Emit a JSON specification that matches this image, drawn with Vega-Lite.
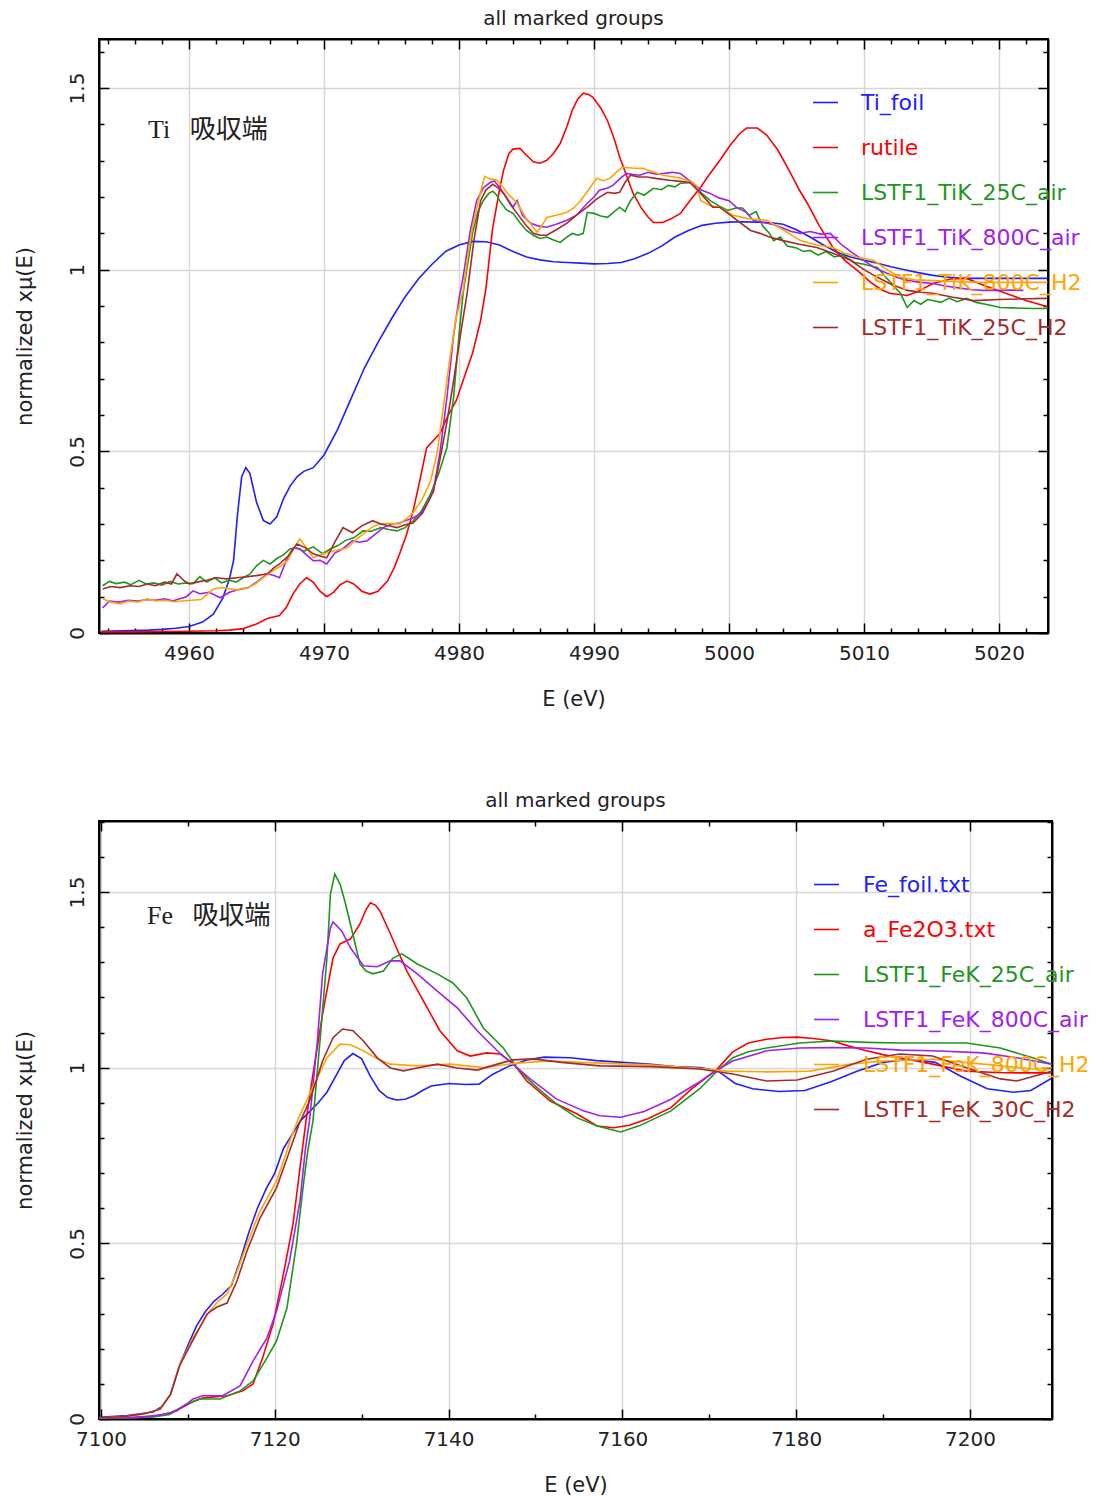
{
"$schema": "https://vega.github.io/schema/vega-lite/v6.json",
"padding": {"left": 12, "top": 8, "right": 0, "bottom": 0},
"spacing": 80,
"config": {
  "font": "DejaVu Sans",
  "view": {"stroke": "black", "strokeWidth": 2},
  "axis": {"domainColor": "black", "domainWidth": 2, "tickColor": "black", "tickWidth": 1.5, "gridColor": "#d6d6d6", "gridWidth": 1.5, "labelFont": "DejaVu Sans", "labelFontSize": 20, "labelColor": "#222", "titleFont": "DejaVu Sans", "titleFontSize": 21, "titleFontWeight": "normal", "titleColor": "#222", "labelFlush": false, "labelOverlap": false},
  "title": {"font": "DejaVu Sans", "fontSize": 20, "fontWeight": "normal", "color": "#222", "offset": 9}
},
"resolve": {"scale": {"color": "independent"}},
"vconcat": [
{
  "width": 949, "height": 594,
  "title": {"text": "all marked groups"},
  "resolve": {"axis": {"x": "independent", "y": "independent"}},
  "layer": [
  {
    "data": {"values": [
{"series":"Ti_foil","E":4953.5,"mu":0.005},{"series":"Ti_foil","E":4955,"mu":0.006},{"series":"Ti_foil","E":4957,"mu":0.008},{"series":"Ti_foil","E":4958,"mu":0.01},{"series":"Ti_foil","E":4959,"mu":0.013},{"series":"Ti_foil","E":4960,"mu":0.018},{"series":"Ti_foil","E":4961,"mu":0.03},{"series":"Ti_foil","E":4961.8,"mu":0.052},{"series":"Ti_foil","E":4962.5,"mu":0.096},{"series":"Ti_foil","E":4963,"mu":0.15},{"series":"Ti_foil","E":4963.3,"mu":0.2},{"series":"Ti_foil","E":4963.6,"mu":0.33},{"series":"Ti_foil","E":4963.9,"mu":0.43},{"series":"Ti_foil","E":4964.2,"mu":0.455},{"series":"Ti_foil","E":4964.5,"mu":0.44},{"series":"Ti_foil","E":4965,"mu":0.36},{"series":"Ti_foil","E":4965.5,"mu":0.31},{"series":"Ti_foil","E":4966,"mu":0.3},{"series":"Ti_foil","E":4966.5,"mu":0.32},{"series":"Ti_foil","E":4967,"mu":0.37},{"series":"Ti_foil","E":4967.5,"mu":0.405},{"series":"Ti_foil","E":4968,"mu":0.43},{"series":"Ti_foil","E":4968.5,"mu":0.445},{"series":"Ti_foil","E":4969.2,"mu":0.455},{"series":"Ti_foil","E":4970,"mu":0.49},{"series":"Ti_foil","E":4971,"mu":0.56},{"series":"Ti_foil","E":4972,"mu":0.645},{"series":"Ti_foil","E":4973,"mu":0.73},{"series":"Ti_foil","E":4974,"mu":0.8},{"series":"Ti_foil","E":4975,"mu":0.865},{"series":"Ti_foil","E":4976,"mu":0.925},{"series":"Ti_foil","E":4977,"mu":0.975},{"series":"Ti_foil","E":4978,"mu":1.015},{"series":"Ti_foil","E":4979,"mu":1.05},{"series":"Ti_foil","E":4980,"mu":1.068},{"series":"Ti_foil","E":4981,"mu":1.078},{"series":"Ti_foil","E":4982,"mu":1.077},{"series":"Ti_foil","E":4983,"mu":1.068},{"series":"Ti_foil","E":4984,"mu":1.05},{"series":"Ti_foil","E":4985,"mu":1.035},{"series":"Ti_foil","E":4986,"mu":1.027},{"series":"Ti_foil","E":4987,"mu":1.022},{"series":"Ti_foil","E":4988,"mu":1.02},{"series":"Ti_foil","E":4989,"mu":1.018},{"series":"Ti_foil","E":4990,"mu":1.016},{"series":"Ti_foil","E":4991,"mu":1.017},{"series":"Ti_foil","E":4992,"mu":1.02},{"series":"Ti_foil","E":4993,"mu":1.03},{"series":"Ti_foil","E":4994,"mu":1.045},{"series":"Ti_foil","E":4995,"mu":1.065},{"series":"Ti_foil","E":4996,"mu":1.09},{"series":"Ti_foil","E":4997,"mu":1.108},{"series":"Ti_foil","E":4998,"mu":1.122},{"series":"Ti_foil","E":4999,"mu":1.128},{"series":"Ti_foil","E":5000,"mu":1.131},{"series":"Ti_foil","E":5001,"mu":1.132},{"series":"Ti_foil","E":5002,"mu":1.131},{"series":"Ti_foil","E":5003,"mu":1.13},{"series":"Ti_foil","E":5004,"mu":1.125},{"series":"Ti_foil","E":5005,"mu":1.11},{"series":"Ti_foil","E":5006,"mu":1.09},{"series":"Ti_foil","E":5007,"mu":1.068},{"series":"Ti_foil","E":5008,"mu":1.048},{"series":"Ti_foil","E":5009,"mu":1.035},{"series":"Ti_foil","E":5010,"mu":1.026},{"series":"Ti_foil","E":5011,"mu":1.018},{"series":"Ti_foil","E":5012,"mu":1.008},{"series":"Ti_foil","E":5013,"mu":1.0},{"series":"Ti_foil","E":5014,"mu":0.992},{"series":"Ti_foil","E":5015,"mu":0.985},{"series":"Ti_foil","E":5016,"mu":0.98},{"series":"Ti_foil","E":5017,"mu":0.977},{"series":"Ti_foil","E":5018,"mu":0.976},{"series":"Ti_foil","E":5020,"mu":0.976},{"series":"Ti_foil","E":5022,"mu":0.976},{"series":"Ti_foil","E":5023.6,"mu":0.976},
{"series":"rutile","E":4953.5,"mu":0.003},{"series":"rutile","E":4956,"mu":0.003},{"series":"rutile","E":4958,"mu":0.004},{"series":"rutile","E":4960,"mu":0.005},{"series":"rutile","E":4962,"mu":0.006},{"series":"rutile","E":4963,"mu":0.008},{"series":"rutile","E":4964,"mu":0.012},{"series":"rutile","E":4965,"mu":0.025},{"series":"rutile","E":4965.8,"mu":0.04},{"series":"rutile","E":4966.7,"mu":0.048},{"series":"rutile","E":4967.2,"mu":0.07},{"series":"rutile","E":4967.7,"mu":0.107},{"series":"rutile","E":4968.2,"mu":0.135},{"series":"rutile","E":4968.7,"mu":0.152},{"series":"rutile","E":4969.2,"mu":0.14},{"series":"rutile","E":4969.7,"mu":0.115},{"series":"rutile","E":4970.2,"mu":0.1},{"series":"rutile","E":4970.7,"mu":0.112},{"series":"rutile","E":4971.2,"mu":0.133},{"series":"rutile","E":4971.7,"mu":0.143},{"series":"rutile","E":4972.2,"mu":0.135},{"series":"rutile","E":4972.8,"mu":0.115},{"series":"rutile","E":4973.4,"mu":0.107},{"series":"rutile","E":4974,"mu":0.115},{"series":"rutile","E":4974.7,"mu":0.143},{"series":"rutile","E":4975.2,"mu":0.18},{"series":"rutile","E":4975.6,"mu":0.218},{"series":"rutile","E":4976.1,"mu":0.27},{"series":"rutile","E":4976.6,"mu":0.336},{"series":"rutile","E":4977.1,"mu":0.42},{"series":"rutile","E":4977.6,"mu":0.51},{"series":"rutile","E":4978.1,"mu":0.53},{"series":"rutile","E":4978.6,"mu":0.55},{"series":"rutile","E":4979.2,"mu":0.6},{"series":"rutile","E":4979.8,"mu":0.64},{"series":"rutile","E":4980.3,"mu":0.695},{"series":"rutile","E":4981,"mu":0.77},{"series":"rutile","E":4981.6,"mu":0.86},{"series":"rutile","E":4982,"mu":0.95},{"series":"rutile","E":4982.5,"mu":1.117},{"series":"rutile","E":4983,"mu":1.22},{"series":"rutile","E":4983.3,"mu":1.274},{"series":"rutile","E":4983.7,"mu":1.32},{"series":"rutile","E":4984,"mu":1.332},{"series":"rutile","E":4984.5,"mu":1.334},{"series":"rutile","E":4985,"mu":1.315},{"series":"rutile","E":4985.5,"mu":1.297},{"series":"rutile","E":4986,"mu":1.293},{"series":"rutile","E":4986.5,"mu":1.301},{"series":"rutile","E":4987,"mu":1.32},{"series":"rutile","E":4987.5,"mu":1.348},{"series":"rutile","E":4988,"mu":1.395},{"series":"rutile","E":4988.4,"mu":1.44},{"series":"rutile","E":4988.8,"mu":1.47},{"series":"rutile","E":4989.2,"mu":1.486},{"series":"rutile","E":4989.6,"mu":1.482},{"series":"rutile","E":4989.9,"mu":1.475},{"series":"rutile","E":4990.5,"mu":1.445},{"series":"rutile","E":4991,"mu":1.41},{"series":"rutile","E":4991.5,"mu":1.36},{"series":"rutile","E":4991.9,"mu":1.31},{"series":"rutile","E":4992.4,"mu":1.26},{"series":"rutile","E":4992.9,"mu":1.21},{"series":"rutile","E":4993.5,"mu":1.17},{"series":"rutile","E":4994,"mu":1.145},{"series":"rutile","E":4994.4,"mu":1.13},{"series":"rutile","E":4995.1,"mu":1.13},{"series":"rutile","E":4995.7,"mu":1.14},{"series":"rutile","E":4996.4,"mu":1.155},{"series":"rutile","E":4997,"mu":1.185},{"series":"rutile","E":4997.9,"mu":1.227},{"series":"rutile","E":4998.5,"mu":1.26},{"series":"rutile","E":4999.3,"mu":1.3},{"series":"rutile","E":5000.1,"mu":1.343},{"series":"rutile","E":5000.8,"mu":1.375},{"series":"rutile","E":5001.3,"mu":1.39},{"series":"rutile","E":5002.1,"mu":1.39},{"series":"rutile","E":5002.8,"mu":1.37},{"series":"rutile","E":5003.6,"mu":1.33},{"series":"rutile","E":5004.5,"mu":1.27},{"series":"rutile","E":5005.2,"mu":1.22},{"series":"rutile","E":5005.8,"mu":1.183},{"series":"rutile","E":5006.7,"mu":1.12},{"series":"rutile","E":5007.7,"mu":1.061},{"series":"rutile","E":5008.6,"mu":1.025},{"series":"rutile","E":5009.5,"mu":0.998},{"series":"rutile","E":5010.5,"mu":0.965},{"series":"rutile","E":5011.3,"mu":0.945},{"series":"rutile","E":5011.9,"mu":0.935},{"series":"rutile","E":5013.2,"mu":0.929},{"series":"rutile","E":5014,"mu":0.94},{"series":"rutile","E":5015.1,"mu":0.962},{"series":"rutile","E":5016.5,"mu":0.975},{"series":"rutile","E":5017.6,"mu":0.976},{"series":"rutile","E":5019,"mu":0.955},{"series":"rutile","E":5020.5,"mu":0.935},{"series":"rutile","E":5022,"mu":0.915},{"series":"rutile","E":5023.6,"mu":0.898},
{"series":"LSTF1_TiK_25C_air","E":4953.6,"mu":0.13},{"series":"LSTF1_TiK_25C_air","E":4954.1,"mu":0.142},{"series":"LSTF1_TiK_25C_air","E":4954.6,"mu":0.136},{"series":"LSTF1_TiK_25C_air","E":4955.2,"mu":0.14},{"series":"LSTF1_TiK_25C_air","E":4955.7,"mu":0.133},{"series":"LSTF1_TiK_25C_air","E":4956.3,"mu":0.145},{"series":"LSTF1_TiK_25C_air","E":4956.8,"mu":0.135},{"series":"LSTF1_TiK_25C_air","E":4957.4,"mu":0.138},{"series":"LSTF1_TiK_25C_air","E":4958,"mu":0.132},{"series":"LSTF1_TiK_25C_air","E":4958.6,"mu":0.142},{"series":"LSTF1_TiK_25C_air","E":4959.2,"mu":0.135},{"series":"LSTF1_TiK_25C_air","E":4959.8,"mu":0.138},{"series":"LSTF1_TiK_25C_air","E":4960.3,"mu":0.136},{"series":"LSTF1_TiK_25C_air","E":4960.8,"mu":0.155},{"series":"LSTF1_TiK_25C_air","E":4961.3,"mu":0.14},{"series":"LSTF1_TiK_25C_air","E":4961.9,"mu":0.152},{"series":"LSTF1_TiK_25C_air","E":4962.4,"mu":0.138},{"series":"LSTF1_TiK_25C_air","E":4963,"mu":0.145},{"series":"LSTF1_TiK_25C_air","E":4963.5,"mu":0.14},{"series":"LSTF1_TiK_25C_air","E":4964,"mu":0.152},{"series":"LSTF1_TiK_25C_air","E":4964.5,"mu":0.162},{"series":"LSTF1_TiK_25C_air","E":4965,"mu":0.185},{"series":"LSTF1_TiK_25C_air","E":4965.5,"mu":0.2},{"series":"LSTF1_TiK_25C_air","E":4966,"mu":0.19},{"series":"LSTF1_TiK_25C_air","E":4966.5,"mu":0.205},{"series":"LSTF1_TiK_25C_air","E":4967,"mu":0.215},{"series":"LSTF1_TiK_25C_air","E":4967.5,"mu":0.232},{"series":"LSTF1_TiK_25C_air","E":4968,"mu":0.234},{"series":"LSTF1_TiK_25C_air","E":4968.5,"mu":0.225},{"series":"LSTF1_TiK_25C_air","E":4969.2,"mu":0.237},{"series":"LSTF1_TiK_25C_air","E":4969.9,"mu":0.218},{"series":"LSTF1_TiK_25C_air","E":4970.5,"mu":0.232},{"series":"LSTF1_TiK_25C_air","E":4971,"mu":0.24},{"series":"LSTF1_TiK_25C_air","E":4971.6,"mu":0.255},{"series":"LSTF1_TiK_25C_air","E":4972.2,"mu":0.262},{"series":"LSTF1_TiK_25C_air","E":4972.9,"mu":0.281},{"series":"LSTF1_TiK_25C_air","E":4973.5,"mu":0.28},{"series":"LSTF1_TiK_25C_air","E":4974.2,"mu":0.29},{"series":"LSTF1_TiK_25C_air","E":4974.8,"mu":0.285},{"series":"LSTF1_TiK_25C_air","E":4975.4,"mu":0.281},{"series":"LSTF1_TiK_25C_air","E":4976,"mu":0.29},{"series":"LSTF1_TiK_25C_air","E":4976.6,"mu":0.309},{"series":"LSTF1_TiK_25C_air","E":4977.2,"mu":0.335},{"series":"LSTF1_TiK_25C_air","E":4977.9,"mu":0.383},{"series":"LSTF1_TiK_25C_air","E":4978.5,"mu":0.44},{"series":"LSTF1_TiK_25C_air","E":4979.1,"mu":0.51},{"series":"LSTF1_TiK_25C_air","E":4979.6,"mu":0.65},{"series":"LSTF1_TiK_25C_air","E":4980,"mu":0.82},{"series":"LSTF1_TiK_25C_air","E":4980.3,"mu":0.935},{"series":"LSTF1_TiK_25C_air","E":4980.7,"mu":1.03},{"series":"LSTF1_TiK_25C_air","E":4981,"mu":1.1},{"series":"LSTF1_TiK_25C_air","E":4981.4,"mu":1.16},{"series":"LSTF1_TiK_25C_air","E":4981.8,"mu":1.19},{"series":"LSTF1_TiK_25C_air","E":4982.2,"mu":1.21},{"series":"LSTF1_TiK_25C_air","E":4982.5,"mu":1.216},{"series":"LSTF1_TiK_25C_air","E":4982.8,"mu":1.205},{"series":"LSTF1_TiK_25C_air","E":4983,"mu":1.19},{"series":"LSTF1_TiK_25C_air","E":4983.5,"mu":1.165},{"series":"LSTF1_TiK_25C_air","E":4984,"mu":1.155},{"series":"LSTF1_TiK_25C_air","E":4984.5,"mu":1.13},{"series":"LSTF1_TiK_25C_air","E":4985,"mu":1.108},{"series":"LSTF1_TiK_25C_air","E":4985.5,"mu":1.095},{"series":"LSTF1_TiK_25C_air","E":4986,"mu":1.086},{"series":"LSTF1_TiK_25C_air","E":4986.5,"mu":1.09},{"series":"LSTF1_TiK_25C_air","E":4987,"mu":1.082},{"series":"LSTF1_TiK_25C_air","E":4987.5,"mu":1.075},{"series":"LSTF1_TiK_25C_air","E":4988,"mu":1.09},{"series":"LSTF1_TiK_25C_air","E":4988.4,"mu":1.1},{"series":"LSTF1_TiK_25C_air","E":4988.8,"mu":1.095},{"series":"LSTF1_TiK_25C_air","E":4989.2,"mu":1.1},{"series":"LSTF1_TiK_25C_air","E":4989.5,"mu":1.158},{"series":"LSTF1_TiK_25C_air","E":4990,"mu":1.155},{"series":"LSTF1_TiK_25C_air","E":4990.5,"mu":1.148},{"series":"LSTF1_TiK_25C_air","E":4991,"mu":1.144},{"series":"LSTF1_TiK_25C_air","E":4991.5,"mu":1.16},{"series":"LSTF1_TiK_25C_air","E":4991.9,"mu":1.172},{"series":"LSTF1_TiK_25C_air","E":4992.3,"mu":1.16},{"series":"LSTF1_TiK_25C_air","E":4992.7,"mu":1.19},{"series":"LSTF1_TiK_25C_air","E":4993.2,"mu":1.213},{"series":"LSTF1_TiK_25C_air","E":4993.7,"mu":1.205},{"series":"LSTF1_TiK_25C_air","E":4994.4,"mu":1.224},{"series":"LSTF1_TiK_25C_air","E":4995,"mu":1.22},{"series":"LSTF1_TiK_25C_air","E":4995.5,"mu":1.232},{"series":"LSTF1_TiK_25C_air","E":4996,"mu":1.228},{"series":"LSTF1_TiK_25C_air","E":4996.4,"mu":1.238},{"series":"LSTF1_TiK_25C_air","E":4997.3,"mu":1.24},{"series":"LSTF1_TiK_25C_air","E":4997.9,"mu":1.213},{"series":"LSTF1_TiK_25C_air","E":4998.6,"mu":1.19},{"series":"LSTF1_TiK_25C_air","E":4999.3,"mu":1.175},{"series":"LSTF1_TiK_25C_air","E":4999.9,"mu":1.163},{"series":"LSTF1_TiK_25C_air","E":5000.5,"mu":1.17},{"series":"LSTF1_TiK_25C_air","E":5001,"mu":1.17},{"series":"LSTF1_TiK_25C_air","E":5001.5,"mu":1.15},{"series":"LSTF1_TiK_25C_air","E":5002,"mu":1.16},{"series":"LSTF1_TiK_25C_air","E":5002.5,"mu":1.12},{"series":"LSTF1_TiK_25C_air","E":5003,"mu":1.1},{"series":"LSTF1_TiK_25C_air","E":5003.3,"mu":1.08},{"series":"LSTF1_TiK_25C_air","E":5003.8,"mu":1.09},{"series":"LSTF1_TiK_25C_air","E":5004.3,"mu":1.065},{"series":"LSTF1_TiK_25C_air","E":5005,"mu":1.06},{"series":"LSTF1_TiK_25C_air","E":5005.5,"mu":1.05},{"series":"LSTF1_TiK_25C_air","E":5006,"mu":1.053},{"series":"LSTF1_TiK_25C_air","E":5006.6,"mu":1.04},{"series":"LSTF1_TiK_25C_air","E":5007.2,"mu":1.05},{"series":"LSTF1_TiK_25C_air","E":5007.8,"mu":1.035},{"series":"LSTF1_TiK_25C_air","E":5008.4,"mu":1.04},{"series":"LSTF1_TiK_25C_air","E":5008.7,"mu":1.034},{"series":"LSTF1_TiK_25C_air","E":5009.3,"mu":1.02},{"series":"LSTF1_TiK_25C_air","E":5010,"mu":1.015},{"series":"LSTF1_TiK_25C_air","E":5010.5,"mu":1.01},{"series":"LSTF1_TiK_25C_air","E":5011,"mu":1.006},{"series":"LSTF1_TiK_25C_air","E":5011.6,"mu":0.98},{"series":"LSTF1_TiK_25C_air","E":5012.2,"mu":0.955},{"series":"LSTF1_TiK_25C_air","E":5012.7,"mu":0.935},{"series":"LSTF1_TiK_25C_air","E":5013.2,"mu":0.896},{"series":"LSTF1_TiK_25C_air","E":5013.7,"mu":0.915},{"series":"LSTF1_TiK_25C_air","E":5014.2,"mu":0.905},{"series":"LSTF1_TiK_25C_air","E":5014.7,"mu":0.918},{"series":"LSTF1_TiK_25C_air","E":5015.1,"mu":0.915},{"series":"LSTF1_TiK_25C_air","E":5015.7,"mu":0.91},{"series":"LSTF1_TiK_25C_air","E":5016.3,"mu":0.922},{"series":"LSTF1_TiK_25C_air","E":5016.9,"mu":0.912},{"series":"LSTF1_TiK_25C_air","E":5017.6,"mu":0.921},{"series":"LSTF1_TiK_25C_air","E":5018.3,"mu":0.91},{"series":"LSTF1_TiK_25C_air","E":5019,"mu":0.905},{"series":"LSTF1_TiK_25C_air","E":5020.1,"mu":0.896},{"series":"LSTF1_TiK_25C_air","E":5021,"mu":0.895},{"series":"LSTF1_TiK_25C_air","E":5022.5,"mu":0.893},{"series":"LSTF1_TiK_25C_air","E":5023.6,"mu":0.893},
{"series":"LSTF1_TiK_800C_air","E":4953.6,"mu":0.069},{"series":"LSTF1_TiK_800C_air","E":4954.1,"mu":0.088},{"series":"LSTF1_TiK_800C_air","E":4954.8,"mu":0.085},{"series":"LSTF1_TiK_800C_air","E":4955.5,"mu":0.09},{"series":"LSTF1_TiK_800C_air","E":4956.2,"mu":0.088},{"series":"LSTF1_TiK_800C_air","E":4956.9,"mu":0.092},{"series":"LSTF1_TiK_800C_air","E":4957.5,"mu":0.09},{"series":"LSTF1_TiK_800C_air","E":4958.2,"mu":0.094},{"series":"LSTF1_TiK_800C_air","E":4958.8,"mu":0.088},{"series":"LSTF1_TiK_800C_air","E":4959.3,"mu":0.094},{"series":"LSTF1_TiK_800C_air","E":4959.8,"mu":0.1},{"series":"LSTF1_TiK_800C_air","E":4960.3,"mu":0.116},{"series":"LSTF1_TiK_800C_air","E":4960.8,"mu":0.108},{"series":"LSTF1_TiK_800C_air","E":4961.5,"mu":0.112},{"series":"LSTF1_TiK_800C_air","E":4962.3,"mu":0.097},{"series":"LSTF1_TiK_800C_air","E":4963,"mu":0.112},{"series":"LSTF1_TiK_800C_air","E":4963.8,"mu":0.121},{"series":"LSTF1_TiK_800C_air","E":4964.4,"mu":0.125},{"series":"LSTF1_TiK_800C_air","E":4965,"mu":0.14},{"series":"LSTF1_TiK_800C_air","E":4965.8,"mu":0.163},{"series":"LSTF1_TiK_800C_air","E":4966.3,"mu":0.158},{"series":"LSTF1_TiK_800C_air","E":4966.7,"mu":0.152},{"series":"LSTF1_TiK_800C_air","E":4967.2,"mu":0.2},{"series":"LSTF1_TiK_800C_air","E":4967.7,"mu":0.234},{"series":"LSTF1_TiK_800C_air","E":4968.2,"mu":0.232},{"series":"LSTF1_TiK_800C_air","E":4968.7,"mu":0.215},{"series":"LSTF1_TiK_800C_air","E":4969.2,"mu":0.199},{"series":"LSTF1_TiK_800C_air","E":4969.7,"mu":0.2},{"series":"LSTF1_TiK_800C_air","E":4970.2,"mu":0.19},{"series":"LSTF1_TiK_800C_air","E":4970.8,"mu":0.22},{"series":"LSTF1_TiK_800C_air","E":4971.4,"mu":0.232},{"series":"LSTF1_TiK_800C_air","E":4972.1,"mu":0.254},{"series":"LSTF1_TiK_800C_air","E":4972.6,"mu":0.25},{"series":"LSTF1_TiK_800C_air","E":4973.2,"mu":0.254},{"series":"LSTF1_TiK_800C_air","E":4973.8,"mu":0.272},{"series":"LSTF1_TiK_800C_air","E":4974.4,"mu":0.29},{"series":"LSTF1_TiK_800C_air","E":4975,"mu":0.3},{"series":"LSTF1_TiK_800C_air","E":4975.6,"mu":0.303},{"series":"LSTF1_TiK_800C_air","E":4976.1,"mu":0.31},{"series":"LSTF1_TiK_800C_air","E":4976.6,"mu":0.317},{"series":"LSTF1_TiK_800C_air","E":4977.2,"mu":0.33},{"series":"LSTF1_TiK_800C_air","E":4977.7,"mu":0.36},{"series":"LSTF1_TiK_800C_air","E":4978.1,"mu":0.39},{"series":"LSTF1_TiK_800C_air","E":4978.6,"mu":0.5},{"series":"LSTF1_TiK_800C_air","E":4979.1,"mu":0.648},{"series":"LSTF1_TiK_800C_air","E":4979.6,"mu":0.82},{"series":"LSTF1_TiK_800C_air","E":4980,"mu":0.92},{"series":"LSTF1_TiK_800C_air","E":4980.3,"mu":0.979},{"series":"LSTF1_TiK_800C_air","E":4980.8,"mu":1.1},{"series":"LSTF1_TiK_800C_air","E":4981.3,"mu":1.19},{"series":"LSTF1_TiK_800C_air","E":4981.8,"mu":1.225},{"series":"LSTF1_TiK_800C_air","E":4982.3,"mu":1.24},{"series":"LSTF1_TiK_800C_air","E":4982.6,"mu":1.245},{"series":"LSTF1_TiK_800C_air","E":4983,"mu":1.227},{"series":"LSTF1_TiK_800C_air","E":4983.5,"mu":1.2},{"series":"LSTF1_TiK_800C_air","E":4984,"mu":1.172},{"series":"LSTF1_TiK_800C_air","E":4984.3,"mu":1.19},{"series":"LSTF1_TiK_800C_air","E":4984.7,"mu":1.15},{"series":"LSTF1_TiK_800C_air","E":4985.3,"mu":1.128},{"series":"LSTF1_TiK_800C_air","E":4985.9,"mu":1.12},{"series":"LSTF1_TiK_800C_air","E":4986.5,"mu":1.117},{"series":"LSTF1_TiK_800C_air","E":4987.2,"mu":1.125},{"series":"LSTF1_TiK_800C_air","E":4988,"mu":1.136},{"series":"LSTF1_TiK_800C_air","E":4988.7,"mu":1.15},{"series":"LSTF1_TiK_800C_air","E":4989.5,"mu":1.183},{"series":"LSTF1_TiK_800C_air","E":4990,"mu":1.2},{"series":"LSTF1_TiK_800C_air","E":4990.4,"mu":1.219},{"series":"LSTF1_TiK_800C_air","E":4991,"mu":1.225},{"series":"LSTF1_TiK_800C_air","E":4991.4,"mu":1.232},{"series":"LSTF1_TiK_800C_air","E":4991.9,"mu":1.25},{"series":"LSTF1_TiK_800C_air","E":4992.4,"mu":1.265},{"series":"LSTF1_TiK_800C_air","E":4992.9,"mu":1.262},{"series":"LSTF1_TiK_800C_air","E":4993.4,"mu":1.26},{"series":"LSTF1_TiK_800C_air","E":4994,"mu":1.268},{"series":"LSTF1_TiK_800C_air","E":4994.6,"mu":1.263},{"series":"LSTF1_TiK_800C_air","E":4995.1,"mu":1.265},{"series":"LSTF1_TiK_800C_air","E":4995.8,"mu":1.268},{"series":"LSTF1_TiK_800C_air","E":4996.4,"mu":1.265},{"series":"LSTF1_TiK_800C_air","E":4996.9,"mu":1.25},{"series":"LSTF1_TiK_800C_air","E":4997.3,"mu":1.238},{"series":"LSTF1_TiK_800C_air","E":4997.9,"mu":1.22},{"series":"LSTF1_TiK_800C_air","E":4998.6,"mu":1.21},{"series":"LSTF1_TiK_800C_air","E":4999.3,"mu":1.197},{"series":"LSTF1_TiK_800C_air","E":5000,"mu":1.19},{"series":"LSTF1_TiK_800C_air","E":5000.6,"mu":1.17},{"series":"LSTF1_TiK_800C_air","E":5001.2,"mu":1.16},{"series":"LSTF1_TiK_800C_air","E":5001.8,"mu":1.136},{"series":"LSTF1_TiK_800C_air","E":5002.5,"mu":1.13},{"series":"LSTF1_TiK_800C_air","E":5003.2,"mu":1.125},{"series":"LSTF1_TiK_800C_air","E":5004,"mu":1.115},{"series":"LSTF1_TiK_800C_air","E":5004.6,"mu":1.105},{"series":"LSTF1_TiK_800C_air","E":5005.3,"mu":1.1},{"series":"LSTF1_TiK_800C_air","E":5006,"mu":1.105},{"series":"LSTF1_TiK_800C_air","E":5006.8,"mu":1.098},{"series":"LSTF1_TiK_800C_air","E":5007.5,"mu":1.1},{"series":"LSTF1_TiK_800C_air","E":5008.3,"mu":1.07},{"series":"LSTF1_TiK_800C_air","E":5009.2,"mu":1.045},{"series":"LSTF1_TiK_800C_air","E":5010,"mu":1.025},{"series":"LSTF1_TiK_800C_air","E":5010.8,"mu":1.005},{"series":"LSTF1_TiK_800C_air","E":5011.7,"mu":0.99},{"series":"LSTF1_TiK_800C_air","E":5012.5,"mu":0.978},{"series":"LSTF1_TiK_800C_air","E":5013.3,"mu":0.97},{"series":"LSTF1_TiK_800C_air","E":5014.2,"mu":0.965},{"series":"LSTF1_TiK_800C_air","E":5015.1,"mu":0.962},{"series":"LSTF1_TiK_800C_air","E":5016,"mu":0.955},{"series":"LSTF1_TiK_800C_air","E":5017,"mu":0.95},{"series":"LSTF1_TiK_800C_air","E":5018,"mu":0.945},{"series":"LSTF1_TiK_800C_air","E":5018.8,"mu":0.943},{"series":"LSTF1_TiK_800C_air","E":5020,"mu":0.943},{"series":"LSTF1_TiK_800C_air","E":5021,"mu":0.944},{"series":"LSTF1_TiK_800C_air","E":5021.8,"mu":0.943},
{"series":"LSTF1_TiK_800C_H2","E":4953.6,"mu":0.094},{"series":"LSTF1_TiK_800C_H2","E":4954.2,"mu":0.085},{"series":"LSTF1_TiK_800C_H2","E":4954.9,"mu":0.08},{"series":"LSTF1_TiK_800C_H2","E":4955.5,"mu":0.088},{"series":"LSTF1_TiK_800C_H2","E":4956.2,"mu":0.085},{"series":"LSTF1_TiK_800C_H2","E":4956.9,"mu":0.094},{"series":"LSTF1_TiK_800C_H2","E":4957.5,"mu":0.088},{"series":"LSTF1_TiK_800C_H2","E":4958.2,"mu":0.09},{"series":"LSTF1_TiK_800C_H2","E":4958.9,"mu":0.086},{"series":"LSTF1_TiK_800C_H2","E":4959.5,"mu":0.088},{"series":"LSTF1_TiK_800C_H2","E":4960.2,"mu":0.09},{"series":"LSTF1_TiK_800C_H2","E":4960.9,"mu":0.092},{"series":"LSTF1_TiK_800C_H2","E":4961.3,"mu":0.105},{"series":"LSTF1_TiK_800C_H2","E":4961.8,"mu":0.121},{"series":"LSTF1_TiK_800C_H2","E":4962.4,"mu":0.125},{"series":"LSTF1_TiK_800C_H2","E":4963,"mu":0.122},{"series":"LSTF1_TiK_800C_H2","E":4963.6,"mu":0.118},{"series":"LSTF1_TiK_800C_H2","E":4964.3,"mu":0.124},{"series":"LSTF1_TiK_800C_H2","E":4964.9,"mu":0.135},{"series":"LSTF1_TiK_800C_H2","E":4965.6,"mu":0.155},{"series":"LSTF1_TiK_800C_H2","E":4966.2,"mu":0.171},{"series":"LSTF1_TiK_800C_H2","E":4966.8,"mu":0.185},{"series":"LSTF1_TiK_800C_H2","E":4967.3,"mu":0.199},{"series":"LSTF1_TiK_800C_H2","E":4967.8,"mu":0.235},{"series":"LSTF1_TiK_800C_H2","E":4968.2,"mu":0.259},{"series":"LSTF1_TiK_800C_H2","E":4968.7,"mu":0.235},{"series":"LSTF1_TiK_800C_H2","E":4969.2,"mu":0.207},{"series":"LSTF1_TiK_800C_H2","E":4969.7,"mu":0.215},{"series":"LSTF1_TiK_800C_H2","E":4970.2,"mu":0.221},{"series":"LSTF1_TiK_800C_H2","E":4970.9,"mu":0.228},{"series":"LSTF1_TiK_800C_H2","E":4971.7,"mu":0.234},{"series":"LSTF1_TiK_800C_H2","E":4972.3,"mu":0.255},{"series":"LSTF1_TiK_800C_H2","E":4972.9,"mu":0.273},{"series":"LSTF1_TiK_800C_H2","E":4973.5,"mu":0.29},{"series":"LSTF1_TiK_800C_H2","E":4974.1,"mu":0.3},{"series":"LSTF1_TiK_800C_H2","E":4974.8,"mu":0.302},{"series":"LSTF1_TiK_800C_H2","E":4975.6,"mu":0.3},{"series":"LSTF1_TiK_800C_H2","E":4976.1,"mu":0.315},{"series":"LSTF1_TiK_800C_H2","E":4976.6,"mu":0.331},{"series":"LSTF1_TiK_800C_H2","E":4977.3,"mu":0.37},{"series":"LSTF1_TiK_800C_H2","E":4977.9,"mu":0.419},{"series":"LSTF1_TiK_800C_H2","E":4978.4,"mu":0.5},{"series":"LSTF1_TiK_800C_H2","E":4978.8,"mu":0.612},{"series":"LSTF1_TiK_800C_H2","E":4979.3,"mu":0.75},{"series":"LSTF1_TiK_800C_H2","E":4979.8,"mu":0.87},{"series":"LSTF1_TiK_800C_H2","E":4980.3,"mu":0.943},{"series":"LSTF1_TiK_800C_H2","E":4980.7,"mu":1.05},{"series":"LSTF1_TiK_800C_H2","E":4981,"mu":1.117},{"series":"LSTF1_TiK_800C_H2","E":4981.5,"mu":1.2},{"series":"LSTF1_TiK_800C_H2","E":4981.9,"mu":1.257},{"series":"LSTF1_TiK_800C_H2","E":4982.3,"mu":1.25},{"series":"LSTF1_TiK_800C_H2","E":4982.8,"mu":1.246},{"series":"LSTF1_TiK_800C_H2","E":4983.2,"mu":1.23},{"series":"LSTF1_TiK_800C_H2","E":4983.6,"mu":1.21},{"series":"LSTF1_TiK_800C_H2","E":4984,"mu":1.195},{"series":"LSTF1_TiK_800C_H2","E":4984.3,"mu":1.183},{"series":"LSTF1_TiK_800C_H2","E":4985,"mu":1.14},{"series":"LSTF1_TiK_800C_H2","E":4985.8,"mu":1.103},{"series":"LSTF1_TiK_800C_H2","E":4986.2,"mu":1.125},{"series":"LSTF1_TiK_800C_H2","E":4986.5,"mu":1.144},{"series":"LSTF1_TiK_800C_H2","E":4987.2,"mu":1.15},{"series":"LSTF1_TiK_800C_H2","E":4988,"mu":1.158},{"series":"LSTF1_TiK_800C_H2","E":4988.5,"mu":1.17},{"series":"LSTF1_TiK_800C_H2","E":4989,"mu":1.19},{"series":"LSTF1_TiK_800C_H2","E":4989.6,"mu":1.22},{"series":"LSTF1_TiK_800C_H2","E":4990.2,"mu":1.252},{"series":"LSTF1_TiK_800C_H2","E":4990.7,"mu":1.245},{"series":"LSTF1_TiK_800C_H2","E":4991.2,"mu":1.252},{"series":"LSTF1_TiK_800C_H2","E":4991.7,"mu":1.27},{"series":"LSTF1_TiK_800C_H2","E":4992.1,"mu":1.282},{"series":"LSTF1_TiK_800C_H2","E":4992.8,"mu":1.28},{"series":"LSTF1_TiK_800C_H2","E":4993.6,"mu":1.279},{"series":"LSTF1_TiK_800C_H2","E":4994.3,"mu":1.27},{"series":"LSTF1_TiK_800C_H2","E":4995.1,"mu":1.26},{"series":"LSTF1_TiK_800C_H2","E":4995.8,"mu":1.256},{"series":"LSTF1_TiK_800C_H2","E":4996.4,"mu":1.252},{"series":"LSTF1_TiK_800C_H2","E":4997,"mu":1.245},{"series":"LSTF1_TiK_800C_H2","E":4997.6,"mu":1.232},{"series":"LSTF1_TiK_800C_H2","E":4997.9,"mu":1.19},{"series":"LSTF1_TiK_800C_H2","E":4998.7,"mu":1.175},{"series":"LSTF1_TiK_800C_H2","E":4999.3,"mu":1.172},{"series":"LSTF1_TiK_800C_H2","E":5000.3,"mu":1.15},{"series":"LSTF1_TiK_800C_H2","E":5001.5,"mu":1.14},{"series":"LSTF1_TiK_800C_H2","E":5002.8,"mu":1.136},{"series":"LSTF1_TiK_800C_H2","E":5004,"mu":1.11},{"series":"LSTF1_TiK_800C_H2","E":5005.3,"mu":1.08},{"series":"LSTF1_TiK_800C_H2","E":5006.5,"mu":1.068},{"series":"LSTF1_TiK_800C_H2","E":5007.7,"mu":1.061},{"series":"LSTF1_TiK_800C_H2","E":5008.6,"mu":1.045},{"series":"LSTF1_TiK_800C_H2","E":5009.5,"mu":1.034},{"series":"LSTF1_TiK_800C_H2","E":5010.1,"mu":1.03},{"series":"LSTF1_TiK_800C_H2","E":5010.7,"mu":1.026},{"series":"LSTF1_TiK_800C_H2","E":5011.7,"mu":1.0},{"series":"LSTF1_TiK_800C_H2","E":5012.7,"mu":0.979},{"series":"LSTF1_TiK_800C_H2","E":5013.8,"mu":0.972},{"series":"LSTF1_TiK_800C_H2","E":5015.1,"mu":0.97},{"series":"LSTF1_TiK_800C_H2","E":5017,"mu":0.967},{"series":"LSTF1_TiK_800C_H2","E":5018.8,"mu":0.965},{"series":"LSTF1_TiK_800C_H2","E":5021,"mu":0.965},{"series":"LSTF1_TiK_800C_H2","E":5023.6,"mu":0.965},
{"series":"LSTF1_TiK_25C_H2","E":4953.6,"mu":0.121},{"series":"LSTF1_TiK_25C_H2","E":4954.2,"mu":0.128},{"series":"LSTF1_TiK_25C_H2","E":4954.9,"mu":0.125},{"series":"LSTF1_TiK_25C_H2","E":4955.6,"mu":0.13},{"series":"LSTF1_TiK_25C_H2","E":4956.3,"mu":0.128},{"series":"LSTF1_TiK_25C_H2","E":4956.9,"mu":0.135},{"series":"LSTF1_TiK_25C_H2","E":4957.5,"mu":0.13},{"series":"LSTF1_TiK_25C_H2","E":4958.2,"mu":0.14},{"series":"LSTF1_TiK_25C_H2","E":4958.7,"mu":0.135},{"series":"LSTF1_TiK_25C_H2","E":4959.1,"mu":0.163},{"series":"LSTF1_TiK_25C_H2","E":4959.6,"mu":0.145},{"series":"LSTF1_TiK_25C_H2","E":4960,"mu":0.135},{"series":"LSTF1_TiK_25C_H2","E":4960.6,"mu":0.14},{"series":"LSTF1_TiK_25C_H2","E":4961.3,"mu":0.145},{"series":"LSTF1_TiK_25C_H2","E":4962,"mu":0.152},{"series":"LSTF1_TiK_25C_H2","E":4962.8,"mu":0.149},{"series":"LSTF1_TiK_25C_H2","E":4963.5,"mu":0.152},{"series":"LSTF1_TiK_25C_H2","E":4964.3,"mu":0.155},{"series":"LSTF1_TiK_25C_H2","E":4965,"mu":0.158},{"series":"LSTF1_TiK_25C_H2","E":4965.8,"mu":0.163},{"series":"LSTF1_TiK_25C_H2","E":4966.3,"mu":0.18},{"series":"LSTF1_TiK_25C_H2","E":4966.7,"mu":0.19},{"series":"LSTF1_TiK_25C_H2","E":4967.3,"mu":0.21},{"series":"LSTF1_TiK_25C_H2","E":4968,"mu":0.245},{"series":"LSTF1_TiK_25C_H2","E":4968.6,"mu":0.235},{"series":"LSTF1_TiK_25C_H2","E":4969.2,"mu":0.218},{"series":"LSTF1_TiK_25C_H2","E":4969.7,"mu":0.212},{"series":"LSTF1_TiK_25C_H2","E":4970.2,"mu":0.207},{"series":"LSTF1_TiK_25C_H2","E":4970.8,"mu":0.25},{"series":"LSTF1_TiK_25C_H2","E":4971.4,"mu":0.29},{"series":"LSTF1_TiK_25C_H2","E":4971.8,"mu":0.282},{"series":"LSTF1_TiK_25C_H2","E":4972.1,"mu":0.276},{"series":"LSTF1_TiK_25C_H2","E":4972.8,"mu":0.295},{"series":"LSTF1_TiK_25C_H2","E":4973.6,"mu":0.309},{"series":"LSTF1_TiK_25C_H2","E":4974.2,"mu":0.3},{"series":"LSTF1_TiK_25C_H2","E":4974.8,"mu":0.295},{"series":"LSTF1_TiK_25C_H2","E":4975.4,"mu":0.29},{"series":"LSTF1_TiK_25C_H2","E":4976,"mu":0.298},{"series":"LSTF1_TiK_25C_H2","E":4976.6,"mu":0.303},{"series":"LSTF1_TiK_25C_H2","E":4977.3,"mu":0.33},{"series":"LSTF1_TiK_25C_H2","E":4978.1,"mu":0.39},{"series":"LSTF1_TiK_25C_H2","E":4978.6,"mu":0.48},{"series":"LSTF1_TiK_25C_H2","E":4979.1,"mu":0.58},{"series":"LSTF1_TiK_25C_H2","E":4979.6,"mu":0.695},{"series":"LSTF1_TiK_25C_H2","E":4980.1,"mu":0.82},{"series":"LSTF1_TiK_25C_H2","E":4980.6,"mu":0.935},{"series":"LSTF1_TiK_25C_H2","E":4981.1,"mu":1.08},{"series":"LSTF1_TiK_25C_H2","E":4981.6,"mu":1.19},{"series":"LSTF1_TiK_25C_H2","E":4982,"mu":1.22},{"series":"LSTF1_TiK_25C_H2","E":4982.5,"mu":1.235},{"series":"LSTF1_TiK_25C_H2","E":4982.9,"mu":1.225},{"series":"LSTF1_TiK_25C_H2","E":4983.3,"mu":1.21},{"series":"LSTF1_TiK_25C_H2","E":4983.8,"mu":1.18},{"series":"LSTF1_TiK_25C_H2","E":4984.3,"mu":1.155},{"series":"LSTF1_TiK_25C_H2","E":4984.9,"mu":1.125},{"series":"LSTF1_TiK_25C_H2","E":4985.5,"mu":1.1},{"series":"LSTF1_TiK_25C_H2","E":4986,"mu":1.095},{"series":"LSTF1_TiK_25C_H2","E":4986.5,"mu":1.095},{"series":"LSTF1_TiK_25C_H2","E":4987.2,"mu":1.11},{"series":"LSTF1_TiK_25C_H2","E":4988,"mu":1.128},{"series":"LSTF1_TiK_25C_H2","E":4988.7,"mu":1.15},{"series":"LSTF1_TiK_25C_H2","E":4989.5,"mu":1.172},{"series":"LSTF1_TiK_25C_H2","E":4990.2,"mu":1.195},{"series":"LSTF1_TiK_25C_H2","E":4991,"mu":1.213},{"series":"LSTF1_TiK_25C_H2","E":4991.5,"mu":1.21},{"series":"LSTF1_TiK_25C_H2","E":4991.9,"mu":1.213},{"series":"LSTF1_TiK_25C_H2","E":4992.3,"mu":1.24},{"series":"LSTF1_TiK_25C_H2","E":4992.7,"mu":1.26},{"series":"LSTF1_TiK_25C_H2","E":4993.3,"mu":1.255},{"series":"LSTF1_TiK_25C_H2","E":4993.9,"mu":1.255},{"series":"LSTF1_TiK_25C_H2","E":4994.8,"mu":1.25},{"series":"LSTF1_TiK_25C_H2","E":4995.6,"mu":1.246},{"series":"LSTF1_TiK_25C_H2","E":4996.4,"mu":1.243},{"series":"LSTF1_TiK_25C_H2","E":4997.1,"mu":1.24},{"series":"LSTF1_TiK_25C_H2","E":4997.9,"mu":1.21},{"series":"LSTF1_TiK_25C_H2","E":4998.8,"mu":1.172},{"series":"LSTF1_TiK_25C_H2","E":4999.3,"mu":1.172},{"series":"LSTF1_TiK_25C_H2","E":5000.1,"mu":1.15},{"series":"LSTF1_TiK_25C_H2","E":5000.8,"mu":1.13},{"series":"LSTF1_TiK_25C_H2","E":5001.6,"mu":1.108},{"series":"LSTF1_TiK_25C_H2","E":5002.3,"mu":1.1},{"series":"LSTF1_TiK_25C_H2","E":5003,"mu":1.09},{"series":"LSTF1_TiK_25C_H2","E":5004,"mu":1.08},{"series":"LSTF1_TiK_25C_H2","E":5005.2,"mu":1.07},{"series":"LSTF1_TiK_25C_H2","E":5006.5,"mu":1.061},{"series":"LSTF1_TiK_25C_H2","E":5007.7,"mu":1.045},{"series":"LSTF1_TiK_25C_H2","E":5009,"mu":1.026},{"series":"LSTF1_TiK_25C_H2","E":5010,"mu":1.0},{"series":"LSTF1_TiK_25C_H2","E":5011,"mu":0.979},{"series":"LSTF1_TiK_25C_H2","E":5012,"mu":0.96},{"series":"LSTF1_TiK_25C_H2","E":5013.2,"mu":0.943},{"series":"LSTF1_TiK_25C_H2","E":5014.2,"mu":0.938},{"series":"LSTF1_TiK_25C_H2","E":5015.1,"mu":0.935},{"series":"LSTF1_TiK_25C_H2","E":5016.5,"mu":0.925},{"series":"LSTF1_TiK_25C_H2","E":5018.1,"mu":0.915},{"series":"LSTF1_TiK_25C_H2","E":5020,"mu":0.918},{"series":"LSTF1_TiK_25C_H2","E":5022,"mu":0.92},{"series":"LSTF1_TiK_25C_H2","E":5023.6,"mu":0.921}
    ]},
    "mark": {"type": "line", "strokeWidth": 1.6, "clip": true},
    "encoding": {
      "x": {"field": "E", "type": "quantitative", "scale": {"domain": [4953.33, 5023.63], "nice": false, "zero": false},
        "axis": {"orient": "bottom", "values": [4954,4956,4958,4960,4962,4964,4966,4968,4970,4972,4974,4976,4978,4980,4982,4984,4986,4988,4990,4992,4994,4996,4998,5000,5002,5004,5006,5008,5010,5012,5014,5016,5018,5020,5022],
          "format": "d", "labelExpr": "datum.value % 10 === 0 ? datum.label : ''",
          "tickSize": {"condition": {"test": "datum.value % 10 === 0", "value": -10}, "value": -5},
          "grid": true, "gridOpacity": {"condition": {"test": "datum.value % 10 === 0", "value": 1}, "value": 0},
          "labelPadding": 20, "title": "E (eV)", "titlePadding": 20}},
      "y": {"field": "mu", "type": "quantitative", "scale": {"domain": [0, 1.635], "nice": false},
        "axis": {"orient": "left", "values": [0,0.1,0.2,0.3,0.4,0.5,0.6,0.7,0.8,0.9,1,1.1,1.2,1.3,1.4,1.5,1.6],
          "format": "~g", "labelExpr": "(datum.value === 0 || datum.value === 0.5 || datum.value === 1 || datum.value === 1.5) ? datum.label : ''",
          "labelAngle": -90, "labelAlign": "center", "labelBaseline": "bottom",
          "tickSize": {"condition": {"test": "datum.value === 0 || datum.value === 0.5 || datum.value === 1 || datum.value === 1.5", "value": -10}, "value": -5},
          "grid": true, "gridOpacity": {"condition": {"test": "datum.value === 0.5 || datum.value === 1 || datum.value === 1.5", "value": 1}, "value": 0},
          "labelPadding": 22, "title": "normalized xμ(E)", "titlePadding": 27}},
      "color": {"field": "series", "type": "nominal",
        "scale": {"domain": ["Ti_foil","rutile","LSTF1_TiK_25C_air","LSTF1_TiK_800C_air","LSTF1_TiK_800C_H2","LSTF1_TiK_25C_H2"], "range": ["#2020ff","#ff0000","#1e961e","#a020f0","#ffa500","#a52a2a"]},
        "legend": {"orient": "none", "legendX": 713, "legendY": 50, "title": null, "padding": 0, "symbolType": "stroke", "symbolSize": 625, "symbolStrokeWidth": 1.6, "labelFont": "DejaVu Sans", "labelFontSize": 22, "labelOffset": 22, "rowPadding": 20, "labelLimit": 500,
          "encode": {"labels": {"update": {"fill": {"signal": "['#2020ff','#ff0000','#1e961e','#a020f0','#ffa500','#a52a2a'][indexof(['Ti_foil','rutile','LSTF1_TiK_25C_air','LSTF1_TiK_800C_air','LSTF1_TiK_800C_H2','LSTF1_TiK_25C_H2'], datum.value)]"}}}}}
      }
    }
  },
  {
    "data": {"values": [{"E": 4956.96, "mu": 1.384, "label": "Ti\u00a0\u00a0\u00a0吸収端"}]},
    "mark": {"type": "text", "align": "left", "baseline": "middle", "fontSize": 26, "font": "Liberation Serif, Noto Sans CJK JP", "color": "#222"},
    "encoding": {
      "x": {"field": "E", "type": "quantitative", "scale": {"domain": [4953.33, 5023.63], "nice": false, "zero": false},
        "axis": {"orient": "top", "values": [4954,4956,4958,4960,4962,4964,4966,4968,4970,4972,4974,4976,4978,4980,4982,4984,4986,4988,4990,4992,4994,4996,4998,5000,5002,5004,5006,5008,5010,5012,5014,5016,5018,5020,5022],
          "labels": false, "grid": false, "title": null,
          "tickSize": {"condition": {"test": "datum.value % 10 === 0", "value": -10}, "value": -5}}},
      "y": {"field": "mu", "type": "quantitative", "scale": {"domain": [0, 1.635], "nice": false},
        "axis": {"orient": "right", "values": [0,0.1,0.2,0.3,0.4,0.5,0.6,0.7,0.8,0.9,1,1.1,1.2,1.3,1.4,1.5,1.6],
          "labels": false, "grid": false, "title": null,
          "tickSize": {"condition": {"test": "datum.value === 0 || datum.value === 0.5 || datum.value === 1 || datum.value === 1.5", "value": -10}, "value": -5}}},
      "text": {"field": "label"}
    }
  }
  ]
},
{
  "width": 953, "height": 598,
  "title": {"text": "all marked groups"},
  "resolve": {"axis": {"x": "independent", "y": "independent"}},
  "layer": [
  {
    "data": {"values": [
{"series":"Fe_foil.txt","E":7099.8,"mu":0.005},{"series":"Fe_foil.txt","E":7103,"mu":0.01},{"series":"Fe_foil.txt","E":7106,"mu":0.02},{"series":"Fe_foil.txt","E":7107,"mu":0.035},{"series":"Fe_foil.txt","E":7108,"mu":0.07},{"series":"Fe_foil.txt","E":7109,"mu":0.15},{"series":"Fe_foil.txt","E":7110,"mu":0.21},{"series":"Fe_foil.txt","E":7111,"mu":0.265},{"series":"Fe_foil.txt","E":7112,"mu":0.305},{"series":"Fe_foil.txt","E":7113,"mu":0.335},{"series":"Fe_foil.txt","E":7114,"mu":0.355},{"series":"Fe_foil.txt","E":7115,"mu":0.38},{"series":"Fe_foil.txt","E":7116,"mu":0.45},{"series":"Fe_foil.txt","E":7117,"mu":0.53},{"series":"Fe_foil.txt","E":7118,"mu":0.6},{"series":"Fe_foil.txt","E":7119,"mu":0.655},{"series":"Fe_foil.txt","E":7120,"mu":0.7},{"series":"Fe_foil.txt","E":7121,"mu":0.77},{"series":"Fe_foil.txt","E":7122,"mu":0.81},{"series":"Fe_foil.txt","E":7123,"mu":0.85},{"series":"Fe_foil.txt","E":7124,"mu":0.875},{"series":"Fe_foil.txt","E":7125,"mu":0.9},{"series":"Fe_foil.txt","E":7126,"mu":0.93},{"series":"Fe_foil.txt","E":7127,"mu":0.975},{"series":"Fe_foil.txt","E":7128,"mu":1.02},{"series":"Fe_foil.txt","E":7129,"mu":1.04},{"series":"Fe_foil.txt","E":7130,"mu":1.025},{"series":"Fe_foil.txt","E":7131,"mu":0.975},{"series":"Fe_foil.txt","E":7132,"mu":0.935},{"series":"Fe_foil.txt","E":7133,"mu":0.915},{"series":"Fe_foil.txt","E":7134,"mu":0.908},{"series":"Fe_foil.txt","E":7135,"mu":0.91},{"series":"Fe_foil.txt","E":7136,"mu":0.92},{"series":"Fe_foil.txt","E":7137,"mu":0.935},{"series":"Fe_foil.txt","E":7138,"mu":0.948},{"series":"Fe_foil.txt","E":7140,"mu":0.955},{"series":"Fe_foil.txt","E":7142,"mu":0.952},{"series":"Fe_foil.txt","E":7143.5,"mu":0.953},{"series":"Fe_foil.txt","E":7145,"mu":0.98},{"series":"Fe_foil.txt","E":7147,"mu":1.005},{"series":"Fe_foil.txt","E":7149,"mu":1.022},{"series":"Fe_foil.txt","E":7151,"mu":1.03},{"series":"Fe_foil.txt","E":7154,"mu":1.028},{"series":"Fe_foil.txt","E":7157,"mu":1.02},{"series":"Fe_foil.txt","E":7160,"mu":1.015},{"series":"Fe_foil.txt","E":7163,"mu":1.01},{"series":"Fe_foil.txt","E":7166,"mu":1.003},{"series":"Fe_foil.txt","E":7169,"mu":1.0},{"series":"Fe_foil.txt","E":7171,"mu":0.99},{"series":"Fe_foil.txt","E":7173,"mu":0.955},{"series":"Fe_foil.txt","E":7175,"mu":0.94},{"series":"Fe_foil.txt","E":7178,"mu":0.932},{"series":"Fe_foil.txt","E":7181,"mu":0.935},{"series":"Fe_foil.txt","E":7184,"mu":0.96},{"series":"Fe_foil.txt","E":7187,"mu":0.99},{"series":"Fe_foil.txt","E":7190,"mu":1.015},{"series":"Fe_foil.txt","E":7193,"mu":1.024},{"series":"Fe_foil.txt","E":7196,"mu":1.015},{"series":"Fe_foil.txt","E":7199,"mu":0.975},{"series":"Fe_foil.txt","E":7202,"mu":0.94},{"series":"Fe_foil.txt","E":7205,"mu":0.93},{"series":"Fe_foil.txt","E":7207,"mu":0.935},{"series":"Fe_foil.txt","E":7209.4,"mu":0.97},
{"series":"a_Fe2O3.txt","E":7099.8,"mu":0.003},{"series":"a_Fe2O3.txt","E":7103,"mu":0.004},{"series":"a_Fe2O3.txt","E":7106,"mu":0.008},{"series":"a_Fe2O3.txt","E":7108,"mu":0.018},{"series":"a_Fe2O3.txt","E":7109.5,"mu":0.035},{"series":"a_Fe2O3.txt","E":7110.6,"mu":0.05},{"series":"a_Fe2O3.txt","E":7111.7,"mu":0.06},{"series":"a_Fe2O3.txt","E":7113,"mu":0.063},{"series":"a_Fe2O3.txt","E":7114.5,"mu":0.066},{"series":"a_Fe2O3.txt","E":7116.3,"mu":0.08},{"series":"a_Fe2O3.txt","E":7117.5,"mu":0.1},{"series":"a_Fe2O3.txt","E":7118.6,"mu":0.174},{"series":"a_Fe2O3.txt","E":7119.8,"mu":0.27},{"series":"a_Fe2O3.txt","E":7120.9,"mu":0.401},{"series":"a_Fe2O3.txt","E":7122.1,"mu":0.555},{"series":"a_Fe2O3.txt","E":7122.9,"mu":0.715},{"series":"a_Fe2O3.txt","E":7123.6,"mu":0.85},{"series":"a_Fe2O3.txt","E":7124.4,"mu":0.982},{"series":"a_Fe2O3.txt","E":7125.5,"mu":1.153},{"series":"a_Fe2O3.txt","E":7126.7,"mu":1.312},{"series":"a_Fe2O3.txt","E":7127.5,"mu":1.352},{"series":"a_Fe2O3.txt","E":7128.7,"mu":1.366},{"series":"a_Fe2O3.txt","E":7129.8,"mu":1.409},{"series":"a_Fe2O3.txt","E":7130.5,"mu":1.45},{"series":"a_Fe2O3.txt","E":7131,"mu":1.469},{"series":"a_Fe2O3.txt","E":7131.6,"mu":1.462},{"series":"a_Fe2O3.txt","E":7132.1,"mu":1.446},{"series":"a_Fe2O3.txt","E":7133.3,"mu":1.381},{"series":"a_Fe2O3.txt","E":7134.2,"mu":1.33},{"series":"a_Fe2O3.txt","E":7135.2,"mu":1.275},{"series":"a_Fe2O3.txt","E":7137.1,"mu":1.19},{"series":"a_Fe2O3.txt","E":7139,"mu":1.105},{"series":"a_Fe2O3.txt","E":7141,"mu":1.048},{"series":"a_Fe2O3.txt","E":7142.5,"mu":1.033},{"series":"a_Fe2O3.txt","E":7144.4,"mu":1.042},{"series":"a_Fe2O3.txt","E":7145.9,"mu":1.039},{"series":"a_Fe2O3.txt","E":7147.4,"mu":1.013},{"series":"a_Fe2O3.txt","E":7149,"mu":0.962},{"series":"a_Fe2O3.txt","E":7151.7,"mu":0.905},{"series":"a_Fe2O3.txt","E":7154.8,"mu":0.868},{"series":"a_Fe2O3.txt","E":7157.1,"mu":0.834},{"series":"a_Fe2O3.txt","E":7159,"mu":0.829},{"series":"a_Fe2O3.txt","E":7160.8,"mu":0.836},{"series":"a_Fe2O3.txt","E":7163,"mu":0.855},{"series":"a_Fe2O3.txt","E":7165.6,"mu":0.886},{"series":"a_Fe2O3.txt","E":7168,"mu":0.94},{"series":"a_Fe2O3.txt","E":7170.9,"mu":0.996},{"series":"a_Fe2O3.txt","E":7172.7,"mu":1.045},{"series":"a_Fe2O3.txt","E":7174.5,"mu":1.07},{"series":"a_Fe2O3.txt","E":7176.6,"mu":1.081},{"series":"a_Fe2O3.txt","E":7178.5,"mu":1.086},{"series":"a_Fe2O3.txt","E":7180.1,"mu":1.087},{"series":"a_Fe2O3.txt","E":7182,"mu":1.083},{"series":"a_Fe2O3.txt","E":7184.2,"mu":1.076},{"series":"a_Fe2O3.txt","E":7186,"mu":1.062},{"series":"a_Fe2O3.txt","E":7188.1,"mu":1.048},{"series":"a_Fe2O3.txt","E":7190,"mu":1.037},{"series":"a_Fe2O3.txt","E":7191.9,"mu":1.028},{"series":"a_Fe2O3.txt","E":7195.7,"mu":1.01},{"series":"a_Fe2O3.txt","E":7199.6,"mu":0.99},{"series":"a_Fe2O3.txt","E":7203,"mu":0.986},{"series":"a_Fe2O3.txt","E":7205.4,"mu":0.985},{"series":"a_Fe2O3.txt","E":7209.4,"mu":0.985},
{"series":"LSTF1_FeK_25C_air","E":7099.8,"mu":0.003},{"series":"LSTF1_FeK_25C_air","E":7104,"mu":0.004},{"series":"LSTF1_FeK_25C_air","E":7106,"mu":0.006},{"series":"LSTF1_FeK_25C_air","E":7107.9,"mu":0.013},{"series":"LSTF1_FeK_25C_air","E":7109,"mu":0.03},{"series":"LSTF1_FeK_25C_air","E":7109.9,"mu":0.043},{"series":"LSTF1_FeK_25C_air","E":7111.4,"mu":0.057},{"series":"LSTF1_FeK_25C_air","E":7113.7,"mu":0.057},{"series":"LSTF1_FeK_25C_air","E":7116,"mu":0.08},{"series":"LSTF1_FeK_25C_air","E":7117.5,"mu":0.108},{"series":"LSTF1_FeK_25C_air","E":7119.1,"mu":0.174},{"series":"LSTF1_FeK_25C_air","E":7120.2,"mu":0.222},{"series":"LSTF1_FeK_25C_air","E":7121.4,"mu":0.316},{"series":"LSTF1_FeK_25C_air","E":7122.5,"mu":0.498},{"series":"LSTF1_FeK_25C_air","E":7123.3,"mu":0.669},{"series":"LSTF1_FeK_25C_air","E":7123.8,"mu":0.763},{"series":"LSTF1_FeK_25C_air","E":7124.4,"mu":0.85},{"series":"LSTF1_FeK_25C_air","E":7125.2,"mu":1.076},{"series":"LSTF1_FeK_25C_air","E":7126,"mu":1.312},{"series":"LSTF1_FeK_25C_air","E":7126.4,"mu":1.494},{"series":"LSTF1_FeK_25C_air","E":7126.9,"mu":1.551},{"series":"LSTF1_FeK_25C_air","E":7127.5,"mu":1.523},{"series":"LSTF1_FeK_25C_air","E":7128.1,"mu":1.47},{"series":"LSTF1_FeK_25C_air","E":7128.7,"mu":1.409},{"series":"LSTF1_FeK_25C_air","E":7129.8,"mu":1.295},{"series":"LSTF1_FeK_25C_air","E":7130.5,"mu":1.275},{"series":"LSTF1_FeK_25C_air","E":7131.3,"mu":1.267},{"series":"LSTF1_FeK_25C_air","E":7132.5,"mu":1.275},{"series":"LSTF1_FeK_25C_air","E":7133.6,"mu":1.312},{"series":"LSTF1_FeK_25C_air","E":7134.6,"mu":1.324},{"series":"LSTF1_FeK_25C_air","E":7135.5,"mu":1.31},{"series":"LSTF1_FeK_25C_air","E":7136.4,"mu":1.295},{"series":"LSTF1_FeK_25C_air","E":7138.7,"mu":1.267},{"series":"LSTF1_FeK_25C_air","E":7140.5,"mu":1.241},{"series":"LSTF1_FeK_25C_air","E":7142.1,"mu":1.198},{"series":"LSTF1_FeK_25C_air","E":7144,"mu":1.113},{"series":"LSTF1_FeK_25C_air","E":7146.3,"mu":1.056},{"series":"LSTF1_FeK_25C_air","E":7147.9,"mu":0.999},{"series":"LSTF1_FeK_25C_air","E":7149.7,"mu":0.954},{"series":"LSTF1_FeK_25C_air","E":7152.4,"mu":0.897},{"series":"LSTF1_FeK_25C_air","E":7154.8,"mu":0.857},{"series":"LSTF1_FeK_25C_air","E":7157.1,"mu":0.834},{"series":"LSTF1_FeK_25C_air","E":7159.8,"mu":0.817},{"series":"LSTF1_FeK_25C_air","E":7162,"mu":0.835},{"series":"LSTF1_FeK_25C_air","E":7165.6,"mu":0.877},{"series":"LSTF1_FeK_25C_air","E":7168.9,"mu":0.94},{"series":"LSTF1_FeK_25C_air","E":7170.9,"mu":0.99},{"series":"LSTF1_FeK_25C_air","E":7172.7,"mu":1.028},{"series":"LSTF1_FeK_25C_air","E":7174.5,"mu":1.045},{"series":"LSTF1_FeK_25C_air","E":7176.6,"mu":1.056},{"series":"LSTF1_FeK_25C_air","E":7180.4,"mu":1.07},{"series":"LSTF1_FeK_25C_air","E":7184.2,"mu":1.076},{"series":"LSTF1_FeK_25C_air","E":7188.1,"mu":1.072},{"series":"LSTF1_FeK_25C_air","E":7192,"mu":1.07},{"series":"LSTF1_FeK_25C_air","E":7195.7,"mu":1.07},{"series":"LSTF1_FeK_25C_air","E":7199.6,"mu":1.07},{"series":"LSTF1_FeK_25C_air","E":7203.5,"mu":1.056},{"series":"LSTF1_FeK_25C_air","E":7207.2,"mu":1.028},{"series":"LSTF1_FeK_25C_air","E":7209.4,"mu":1.01},
{"series":"LSTF1_FeK_800C_air","E":7099.8,"mu":0.003},{"series":"LSTF1_FeK_800C_air","E":7104,"mu":0.004},{"series":"LSTF1_FeK_800C_air","E":7107,"mu":0.012},{"series":"LSTF1_FeK_800C_air","E":7108.7,"mu":0.023},{"series":"LSTF1_FeK_800C_air","E":7110,"mu":0.045},{"series":"LSTF1_FeK_800C_air","E":7110.6,"mu":0.057},{"series":"LSTF1_FeK_800C_air","E":7111.7,"mu":0.066},{"series":"LSTF1_FeK_800C_air","E":7114,"mu":0.066},{"series":"LSTF1_FeK_800C_air","E":7116,"mu":0.094},{"series":"LSTF1_FeK_800C_air","E":7117.5,"mu":0.165},{"series":"LSTF1_FeK_800C_air","E":7119.1,"mu":0.231},{"series":"LSTF1_FeK_800C_air","E":7120.2,"mu":0.307},{"series":"LSTF1_FeK_800C_air","E":7121.7,"mu":0.45},{"series":"LSTF1_FeK_800C_air","E":7122.9,"mu":0.62},{"series":"LSTF1_FeK_800C_air","E":7123.5,"mu":0.763},{"series":"LSTF1_FeK_800C_air","E":7124,"mu":0.85},{"series":"LSTF1_FeK_800C_air","E":7124.9,"mu":1.076},{"series":"LSTF1_FeK_800C_air","E":7125.5,"mu":1.267},{"series":"LSTF1_FeK_800C_air","E":7126.4,"mu":1.398},{"series":"LSTF1_FeK_800C_air","E":7126.7,"mu":1.415},{"series":"LSTF1_FeK_800C_air","E":7127.7,"mu":1.389},{"series":"LSTF1_FeK_800C_air","E":7128.7,"mu":1.341},{"series":"LSTF1_FeK_800C_air","E":7130.2,"mu":1.29},{"series":"LSTF1_FeK_800C_air","E":7131.8,"mu":1.287},{"series":"LSTF1_FeK_800C_air","E":7133.3,"mu":1.304},{"series":"LSTF1_FeK_800C_air","E":7134.4,"mu":1.304},{"series":"LSTF1_FeK_800C_air","E":7136.4,"mu":1.267},{"series":"LSTF1_FeK_800C_air","E":7138.7,"mu":1.218},{"series":"LSTF1_FeK_800C_air","E":7141,"mu":1.17},{"series":"LSTF1_FeK_800C_air","E":7143.3,"mu":1.105},{"series":"LSTF1_FeK_800C_air","E":7145.6,"mu":1.048},{"series":"LSTF1_FeK_800C_air","E":7147.4,"mu":1.01},{"series":"LSTF1_FeK_800C_air","E":7149.7,"mu":0.962},{"series":"LSTF1_FeK_800C_air","E":7152.4,"mu":0.911},{"series":"LSTF1_FeK_800C_air","E":7155.5,"mu":0.877},{"series":"LSTF1_FeK_800C_air","E":7157.4,"mu":0.863},{"series":"LSTF1_FeK_800C_air","E":7159.8,"mu":0.859},{"series":"LSTF1_FeK_800C_air","E":7162.5,"mu":0.875},{"series":"LSTF1_FeK_800C_air","E":7165.6,"mu":0.91},{"series":"LSTF1_FeK_800C_air","E":7168.9,"mu":0.96},{"series":"LSTF1_FeK_800C_air","E":7170.9,"mu":0.993},{"series":"LSTF1_FeK_800C_air","E":7172.7,"mu":1.019},{"series":"LSTF1_FeK_800C_air","E":7176.6,"mu":1.048},{"series":"LSTF1_FeK_800C_air","E":7180.4,"mu":1.056},{"series":"LSTF1_FeK_800C_air","E":7184,"mu":1.057},{"series":"LSTF1_FeK_800C_air","E":7188.1,"mu":1.056},{"series":"LSTF1_FeK_800C_air","E":7192,"mu":1.05},{"series":"LSTF1_FeK_800C_air","E":7195.7,"mu":1.048},{"series":"LSTF1_FeK_800C_air","E":7201.5,"mu":1.042},{"series":"LSTF1_FeK_800C_air","E":7205.4,"mu":1.028},{"series":"LSTF1_FeK_800C_air","E":7209.4,"mu":1.01},
{"series":"LSTF1_FeK_800C_H2","E":7099.8,"mu":0.003},{"series":"LSTF1_FeK_800C_H2","E":7103,"mu":0.008},{"series":"LSTF1_FeK_800C_H2","E":7105,"mu":0.015},{"series":"LSTF1_FeK_800C_H2","E":7106.8,"mu":0.028},{"series":"LSTF1_FeK_800C_H2","E":7108,"mu":0.07},{"series":"LSTF1_FeK_800C_H2","E":7109.1,"mu":0.157},{"series":"LSTF1_FeK_800C_H2","E":7110.6,"mu":0.231},{"series":"LSTF1_FeK_800C_H2","E":7112.5,"mu":0.307},{"series":"LSTF1_FeK_800C_H2","E":7113.5,"mu":0.335},{"series":"LSTF1_FeK_800C_H2","E":7114.5,"mu":0.356},{"series":"LSTF1_FeK_800C_H2","E":7115.5,"mu":0.41},{"series":"LSTF1_FeK_800C_H2","E":7116.8,"mu":0.498},{"series":"LSTF1_FeK_800C_H2","E":7118.3,"mu":0.592},{"series":"LSTF1_FeK_800C_H2","E":7120.2,"mu":0.677},{"series":"LSTF1_FeK_800C_H2","E":7121.4,"mu":0.763},{"series":"LSTF1_FeK_800C_H2","E":7121.7,"mu":0.79},{"series":"LSTF1_FeK_800C_H2","E":7122.8,"mu":0.86},{"series":"LSTF1_FeK_800C_H2","E":7124,"mu":0.925},{"series":"LSTF1_FeK_800C_H2","E":7126,"mu":1.028},{"series":"LSTF1_FeK_800C_H2","E":7127.5,"mu":1.067},{"series":"LSTF1_FeK_800C_H2","E":7128.7,"mu":1.065},{"series":"LSTF1_FeK_800C_H2","E":7130.2,"mu":1.048},{"series":"LSTF1_FeK_800C_H2","E":7131.8,"mu":1.025},{"series":"LSTF1_FeK_800C_H2","E":7133.3,"mu":1.01},{"series":"LSTF1_FeK_800C_H2","E":7136.4,"mu":1.005},{"series":"LSTF1_FeK_800C_H2","E":7140.2,"mu":1.01},{"series":"LSTF1_FeK_800C_H2","E":7144,"mu":1.0},{"series":"LSTF1_FeK_800C_H2","E":7147.9,"mu":1.013},{"series":"LSTF1_FeK_800C_H2","E":7151.7,"mu":1.019},{"series":"LSTF1_FeK_800C_H2","E":7157.4,"mu":1.013},{"series":"LSTF1_FeK_800C_H2","E":7163,"mu":1.008},{"series":"LSTF1_FeK_800C_H2","E":7168.9,"mu":0.998},{"series":"LSTF1_FeK_800C_H2","E":7172,"mu":0.99},{"series":"LSTF1_FeK_800C_H2","E":7176.6,"mu":0.988},{"series":"LSTF1_FeK_800C_H2","E":7181.6,"mu":0.99},{"series":"LSTF1_FeK_800C_H2","E":7186.2,"mu":1.01},{"series":"LSTF1_FeK_800C_H2","E":7190,"mu":1.019},{"series":"LSTF1_FeK_800C_H2","E":7195.7,"mu":1.024},{"series":"LSTF1_FeK_800C_H2","E":7201.5,"mu":1.01},{"series":"LSTF1_FeK_800C_H2","E":7207.2,"mu":0.996},{"series":"LSTF1_FeK_800C_H2","E":7209.4,"mu":1.0},
{"series":"LSTF1_FeK_30C_H2","E":7099.8,"mu":0.003},{"series":"LSTF1_FeK_30C_H2","E":7103,"mu":0.008},{"series":"LSTF1_FeK_30C_H2","E":7105,"mu":0.015},{"series":"LSTF1_FeK_30C_H2","E":7106.8,"mu":0.028},{"series":"LSTF1_FeK_30C_H2","E":7108,"mu":0.07},{"series":"LSTF1_FeK_30C_H2","E":7109.1,"mu":0.155},{"series":"LSTF1_FeK_30C_H2","E":7110.6,"mu":0.225},{"series":"LSTF1_FeK_30C_H2","E":7112.2,"mu":0.299},{"series":"LSTF1_FeK_30C_H2","E":7113.3,"mu":0.318},{"series":"LSTF1_FeK_30C_H2","E":7114.5,"mu":0.33},{"series":"LSTF1_FeK_30C_H2","E":7115.6,"mu":0.39},{"series":"LSTF1_FeK_30C_H2","E":7116.8,"mu":0.478},{"series":"LSTF1_FeK_30C_H2","E":7118.3,"mu":0.572},{"series":"LSTF1_FeK_30C_H2","E":7120.2,"mu":0.658},{"series":"LSTF1_FeK_30C_H2","E":7121.7,"mu":0.763},{"series":"LSTF1_FeK_30C_H2","E":7122.8,"mu":0.84},{"series":"LSTF1_FeK_30C_H2","E":7124,"mu":0.905},{"series":"LSTF1_FeK_30C_H2","E":7125.5,"mu":1.019},{"series":"LSTF1_FeK_30C_H2","E":7126.7,"mu":1.085},{"series":"LSTF1_FeK_30C_H2","E":7127.8,"mu":1.11},{"series":"LSTF1_FeK_30C_H2","E":7129,"mu":1.105},{"series":"LSTF1_FeK_30C_H2","E":7130.2,"mu":1.076},{"series":"LSTF1_FeK_30C_H2","E":7131.8,"mu":1.028},{"series":"LSTF1_FeK_30C_H2","E":7133.3,"mu":0.999},{"series":"LSTF1_FeK_30C_H2","E":7134.8,"mu":0.991},{"series":"LSTF1_FeK_30C_H2","E":7136.4,"mu":0.999},{"series":"LSTF1_FeK_30C_H2","E":7138.7,"mu":1.01},{"series":"LSTF1_FeK_30C_H2","E":7141,"mu":0.999},{"series":"LSTF1_FeK_30C_H2","E":7143.3,"mu":0.993},{"series":"LSTF1_FeK_30C_H2","E":7145.6,"mu":1.01},{"series":"LSTF1_FeK_30C_H2","E":7147.4,"mu":1.022},{"series":"LSTF1_FeK_30C_H2","E":7149.7,"mu":1.025},{"series":"LSTF1_FeK_30C_H2","E":7153,"mu":1.015},{"series":"LSTF1_FeK_30C_H2","E":7157.4,"mu":1.005},{"series":"LSTF1_FeK_30C_H2","E":7163.2,"mu":1.003},{"series":"LSTF1_FeK_30C_H2","E":7168.9,"mu":0.996},{"series":"LSTF1_FeK_30C_H2","E":7172.7,"mu":0.982},{"series":"LSTF1_FeK_30C_H2","E":7176.6,"mu":0.962},{"series":"LSTF1_FeK_30C_H2","E":7180.1,"mu":0.965},{"series":"LSTF1_FeK_30C_H2","E":7184.2,"mu":0.99},{"series":"LSTF1_FeK_30C_H2","E":7188.1,"mu":1.024},{"series":"LSTF1_FeK_30C_H2","E":7191.9,"mu":1.039},{"series":"LSTF1_FeK_30C_H2","E":7195.7,"mu":1.033},{"series":"LSTF1_FeK_30C_H2","E":7199.6,"mu":1.0},{"series":"LSTF1_FeK_30C_H2","E":7203.5,"mu":0.968},{"series":"LSTF1_FeK_30C_H2","E":7205.4,"mu":0.962},{"series":"LSTF1_FeK_30C_H2","E":7209.4,"mu":0.99}
    ]},
    "mark": {"type": "line", "strokeWidth": 1.6, "clip": true},
    "encoding": {
      "x": {"field": "E", "type": "quantitative", "scale": {"domain": [7099.77, 7209.44], "nice": false, "zero": false},
        "axis": {"orient": "bottom", "values": [7100,7110,7120,7130,7140,7150,7160,7170,7180,7190,7200],
          "format": "d", "labelExpr": "datum.value % 20 === 0 ? datum.label : ''",
          "tickSize": {"condition": {"test": "datum.value % 20 === 0", "value": -10}, "value": -5},
          "grid": true, "gridOpacity": {"condition": {"test": "datum.value % 20 === 0", "value": 1}, "value": 0},
          "labelPadding": 20, "title": "E (eV)", "titlePadding": 20}},
      "y": {"field": "mu", "type": "quantitative", "scale": {"domain": [0, 1.702], "nice": false},
        "axis": {"orient": "left", "values": [0,0.1,0.2,0.3,0.4,0.5,0.6,0.7,0.8,0.9,1,1.1,1.2,1.3,1.4,1.5,1.6,1.7],
          "format": "~g", "labelExpr": "(datum.value === 0 || datum.value === 0.5 || datum.value === 1 || datum.value === 1.5) ? datum.label : ''",
          "labelAngle": -90, "labelAlign": "center", "labelBaseline": "bottom",
          "tickSize": {"condition": {"test": "datum.value === 0 || datum.value === 0.5 || datum.value === 1 || datum.value === 1.5", "value": -10}, "value": -5},
          "grid": true, "gridOpacity": {"condition": {"test": "datum.value === 0.5 || datum.value === 1 || datum.value === 1.5", "value": 1}, "value": 0},
          "labelPadding": 22, "title": "normalized xμ(E)", "titlePadding": 27}},
      "color": {"field": "series", "type": "nominal",
        "scale": {"domain": ["Fe_foil.txt","a_Fe2O3.txt","LSTF1_FeK_25C_air","LSTF1_FeK_800C_air","LSTF1_FeK_800C_H2","LSTF1_FeK_30C_H2"], "range": ["#2020ff","#ff0000","#1e961e","#a020f0","#ffa500","#a52a2a"]},
        "legend": {"orient": "none", "legendX": 714, "legendY": 50, "title": null, "padding": 0, "symbolType": "stroke", "symbolSize": 625, "symbolStrokeWidth": 1.6, "labelFont": "DejaVu Sans", "labelFontSize": 22, "labelOffset": 23, "rowPadding": 20, "labelLimit": 500,
          "encode": {"labels": {"update": {"fill": {"signal": "['#2020ff','#ff0000','#1e961e','#a020f0','#ffa500','#a52a2a'][indexof(['Fe_foil.txt','a_Fe2O3.txt','LSTF1_FeK_25C_air','LSTF1_FeK_800C_air','LSTF1_FeK_800C_H2','LSTF1_FeK_30C_H2'], datum.value)]"}}}}}
      }
    }
  },
  {
    "data": {"values": [{"E": 7105.29, "mu": 1.432, "label": "Fe\u00a0\u00a0\u00a0吸収端"}]},
    "mark": {"type": "text", "align": "left", "baseline": "middle", "fontSize": 26, "font": "Liberation Serif, Noto Sans CJK JP", "color": "#222"},
    "encoding": {
      "x": {"field": "E", "type": "quantitative", "scale": {"domain": [7099.77, 7209.44], "nice": false, "zero": false},
        "axis": {"orient": "top", "values": [7100,7110,7120,7130,7140,7150,7160,7170,7180,7190,7200],
          "labels": false, "grid": false, "title": null,
          "tickSize": {"condition": {"test": "datum.value % 20 === 0", "value": -10}, "value": -5}}},
      "y": {"field": "mu", "type": "quantitative", "scale": {"domain": [0, 1.702], "nice": false},
        "axis": {"orient": "right", "values": [0,0.1,0.2,0.3,0.4,0.5,0.6,0.7,0.8,0.9,1,1.1,1.2,1.3,1.4,1.5,1.6,1.7],
          "labels": false, "grid": false, "title": null,
          "tickSize": {"condition": {"test": "datum.value === 0 || datum.value === 0.5 || datum.value === 1 || datum.value === 1.5", "value": -10}, "value": -5}}},
      "text": {"field": "label"}
    }
  }
  ]
}
]
}
